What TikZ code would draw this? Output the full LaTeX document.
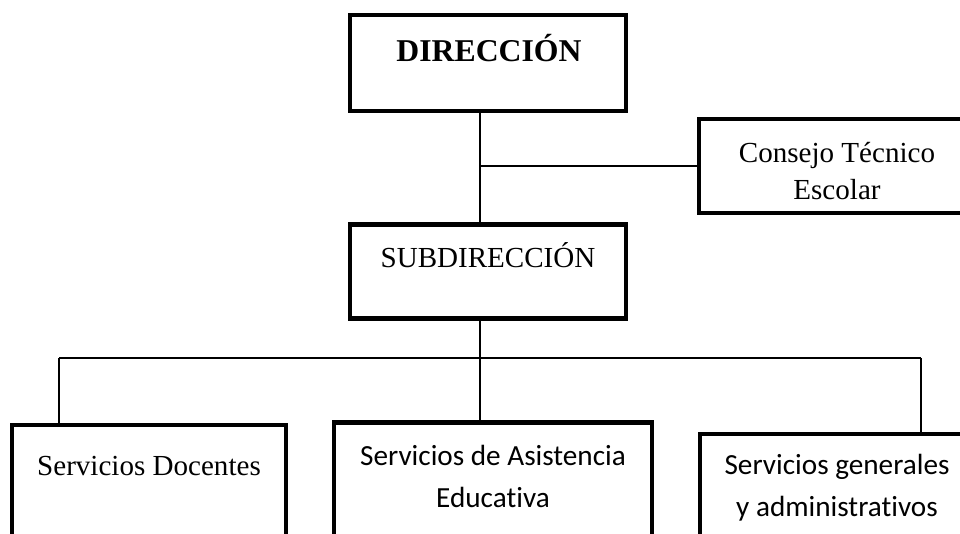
\documentclass[tikz,border=0pt]{standalone}
\usepackage{fontspec}
\setmainfont{Liberation Serif}
\newfontfamily\calibri[Ligatures={NoCommon,NoRequired}]{Carlito}
\usepackage{tikz}
\usetikzlibrary{positioning, calc}
\tikzstyle{orgbox} = [draw, line width=3.6pt, rectangle, inner sep=0pt]
\tikzstyle{link} = [line width=1.1pt, black]
\tikzstyle{serif} = [inner sep=0pt, align=center, font=\fontsize{21.8}{27.75}\selectfont]
\tikzstyle{sans} = [inner sep=0pt, align=center, font=\calibri\fontsize{21.9}{31.5}\selectfont]

\begin{document}
\begin{tikzpicture}[x=0.75pt, y=-0.75pt]
    \useasboundingbox (0,0) rectangle (960,533);
    \clip (0,0) rectangle (960,533);

    % Top level
    \node[orgbox, minimum width=207pt, minimum height=72pt] (dir) at (488,63) {};
    \node[inner sep=0pt, font=\bfseries\fontsize{23.8}{28}\selectfont] (dirtxt) at (489,48) {DIRECCIÓN};

    % Advisory body
    \node[orgbox, minimum width=207pt, minimum height=70.5pt] (cons) at (837,166) {};
    \node[serif] (constxt) at (837,171) {Consejo Técnico\\Escolar};

    % Second level
    \node[orgbox, minimum width=207pt, minimum height=71pt] (sub) at (488,271.5) {};
    \node[serif] (subtxt) at (488,255) {SUBDIRECCIÓN};

    % Third level
    \node[orgbox, minimum width=205.5pt, minimum height=90pt] (doc) at (149,485) {};
    \node[serif] (doctxt) at (149,466) {Servicios Docentes};

    \node[orgbox, minimum width=238.5pt, minimum height=92pt] (asis) at (493,484) {};
    \node[sans] (asistxt) at (493,476) {Servicios de Asistencia\\Educativa};

    \node[orgbox, minimum width=205.5pt, minimum height=84pt] (gen) at (837,490) {};
    \node[sans] (gentxt) at (837,488) {Servicios generales\\y administrativos};

    % Bus points
    \coordinate (busL) at (59,358);
    \coordinate (busM) at (480,358);
    \coordinate (busR) at (921,358);

    % Connections
    \draw[link] (dir.south -| busM) -- (sub.north -| busM);
    \draw[link] (busM |- cons.west) -- (cons.west);
    \draw[link] (sub.south -| busM) -- (busM |- asis.north);
    \draw[link] (busL) -- (busR);
    \draw[link] (busL) -- (busL |- doc.north);
    \draw[link] (busR) -- (busR |- gen.north);
\end{tikzpicture}
\end{document}
